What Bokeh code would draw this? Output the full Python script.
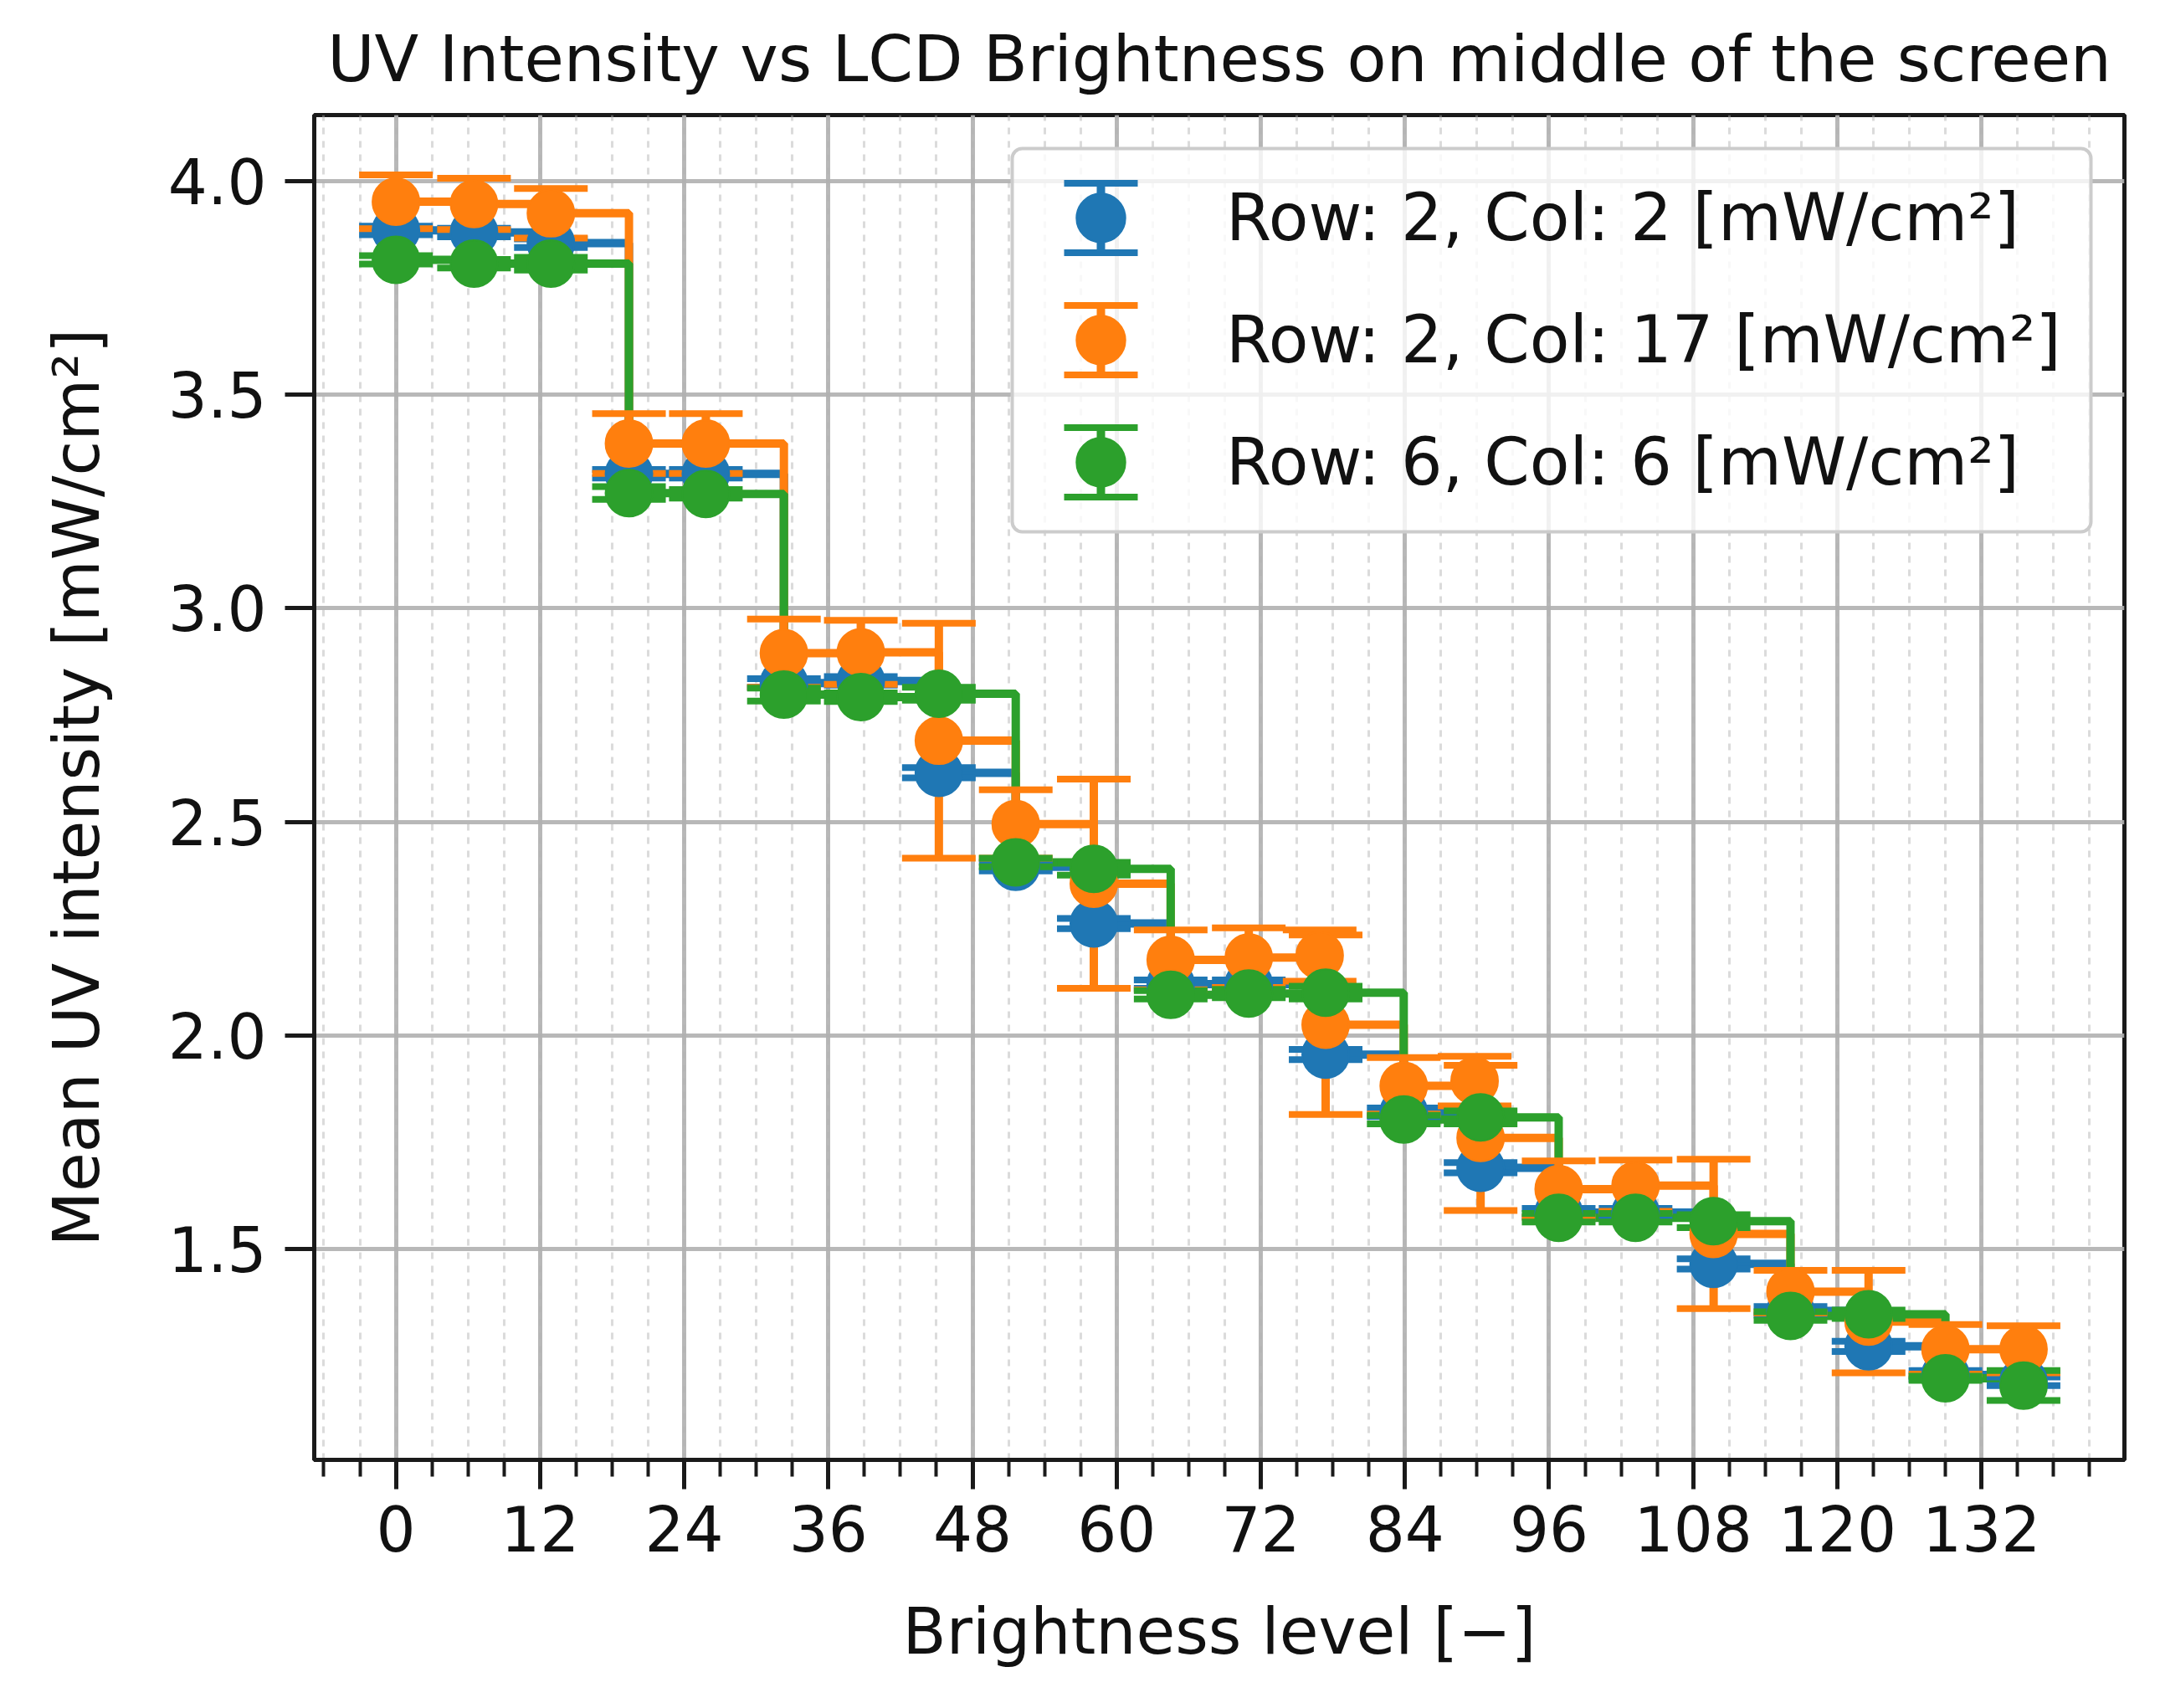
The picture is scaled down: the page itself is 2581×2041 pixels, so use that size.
from bokeh.plotting import figure
from bokeh.models import (ColumnDataSource, Range1d, SingleIntervalTicker,
                          PrintfTickFormatter, Legend, LegendItem, Whisker,
                          TeeHead, BoxAnnotation)
from bokeh.embed import file_html
from bokeh.resources import INLINE

# ---------------- data ----------------
brightness = [0, 6.5, 12.9, 19.4, 25.8, 32.3, 38.7, 45.2, 51.6, 58.1, 64.5,
              71.0, 77.4, 83.9, 90.3, 96.8, 103.2, 109.7, 116.1, 122.6, 129.0, 135.5]

# Row 2, Col 2
r2c2_mean = [3.885, 3.880, 3.855, 3.315, 3.315, 2.825, 2.830, 2.615, 2.395, 2.262, 2.120,
             2.120, 1.955, 1.820, 1.690, 1.585, 1.585, 1.465, 1.355, 1.272, 1.205, 1.190]
r2c2_std = [0.010, 0.010, 0.010, 0.010, 0.010, 0.010, 0.010, 0.012, 0.010, 0.012, 0.010,
            0.010, 0.012, 0.010, 0.012, 0.010, 0.010, 0.012, 0.010, 0.012, 0.010, 0.010]

# Row 2, Col 17 (two readings at two of the levels)
r2c17_x = [0, 6.5, 12.9, 19.4, 25.8, 32.3, 38.7, 45.2, 51.6, 58.1, 64.5, 71.0,
           76.9, 77.4, 83.9, 89.8, 90.3, 96.8, 103.2, 109.7, 116.1, 122.6, 129.0, 135.5]
r2c17_mean = [3.952, 3.947, 3.925, 3.386, 3.386, 2.895, 2.897, 2.690, 2.495, 2.355, 2.177, 2.182,
              2.187, 2.025, 1.882, 1.893, 1.760, 1.640, 1.648, 1.535, 1.400, 1.330, 1.265, 1.265]
r2c17_std = [0.063, 0.060, 0.058, 0.070, 0.070, 0.080, 0.075, 0.275, 0.080, 0.245, 0.070, 0.070,
             0.060, 0.210, 0.066, 0.058, 0.170, 0.066, 0.060, 0.175, 0.050, 0.120, 0.058, 0.055]

# Row 6, Col 6
r6c6_mean = [3.816, 3.807, 3.807, 3.270, 3.268, 2.798, 2.792, 2.800, 2.405, 2.390, 2.095,
             2.098, 2.100, 1.803, 1.808, 1.573, 1.573, 1.565, 1.343, 1.347, 1.197, 1.180]
r6c6_std = [0.010, 0.010, 0.015, 0.015, 0.010, 0.015, 0.010, 0.015, 0.010, 0.015, 0.010,
            0.010, 0.015, 0.010, 0.015, 0.010, 0.010, 0.015, 0.010, 0.010, 0.005, 0.035]

series_labels = ["Row: 2, Col: 2 [mW/cm\u00b2]",
                 "Row: 2, Col: 17 [mW/cm\u00b2]",
                 "Row: 6, Col: 6 [mW/cm\u00b2]"]
series_colors = ["#1f77b4", "#ff7f0e", "#2ca02c"]

TITLE = "UV Intensity vs LCD Brightness on middle of the screen"
X_LABEL = "Brightness level [\u2212]"
Y_LABEL = "Mean UV intensity [mW/cm\u00b2]"

FONT = "DejaVu Sans"
TXT = "#111111"

# ---------------- figure ----------------
p = figure(width=2565, height=2025, output_backend="svg", toolbar_location=None,
           x_range=Range1d(-6.8, 143.9), y_range=Range1d(1.006, 4.155),
           min_border_left=375, min_border_right=27, min_border_top=137,
           min_border_bottom=281, title=TITLE)
p.background_fill_color = "white"
p.border_fill_color = "white"
p.outline_line_color = "#1a1a1a"
p.outline_line_width = 5

sources = []
for xs, m, s in [(brightness, r2c2_mean, r2c2_std),
                 (r2c17_x, r2c17_mean, r2c17_std),
                 (brightness, r6c6_mean, r6c6_std)]:
    sources.append(ColumnDataSource(dict(
        x=xs, y=m,
        lo=[a - b for a, b in zip(m, s)],
        hi=[a + b for a, b in zip(m, s)])))

# step lines (post)
for src, c in zip(sources, series_colors):
    p.step(x="x", y="y", source=src, mode="after", line_color=c, line_width=10)

# error bars + caps
for src, c in zip(sources, series_colors):
    p.segment(x0="x", y0="lo", x1="x", y1="hi", source=src, line_color=c, line_width=10)
    p.scatter(x="x", y="lo", source=src, marker="dash", size=88, line_color=c, line_width=8)
    p.scatter(x="x", y="hi", source=src, marker="dash", size=88, line_color=c, line_width=8)

# markers
marker_renderers = []
for src, c in zip(sources, series_colors):
    r = p.scatter(x="x", y="y", source=src, marker="circle", size=56,
                  fill_color=c, line_color=c, line_width=2)
    marker_renderers.append(r)

# ---------------- axes ----------------
p.xaxis.ticker = SingleIntervalTicker(interval=12, num_minor_ticks=4)
p.yaxis.ticker = SingleIntervalTicker(interval=0.5, num_minor_ticks=0)
p.xaxis.formatter = PrintfTickFormatter(format="%d")
p.yaxis.formatter = PrintfTickFormatter(format="%.1f")

for ax in (p.xaxis, p.yaxis):
    ax.axis_line_color = "#1a1a1a"
    ax.axis_line_width = 5
    ax.major_tick_line_color = "#1a1a1a"
    ax.major_tick_line_width = 5
    ax.major_tick_out = 35
    ax.major_tick_in = 0
    ax.minor_tick_line_color = "#1a1a1a"
    ax.minor_tick_line_width = 4
    ax.minor_tick_out = 20
    ax.minor_tick_in = 0
    ax.major_label_text_font = FONT
    ax.major_label_text_font_size = "74px"
    ax.major_label_text_color = TXT
    ax.axis_label_text_font = FONT
    ax.axis_label_text_font_size = "76px"
    ax.axis_label_text_font_style = "normal"
    ax.axis_label_text_color = TXT

p.yaxis.minor_tick_line_color = None
p.xaxis.axis_label = X_LABEL
p.yaxis.axis_label = Y_LABEL
p.xaxis.major_label_standoff = 19
p.yaxis.major_label_standoff = 22
p.xaxis.axis_label_standoff = 48
p.yaxis.axis_label_standoff = 62

# grid
for g in (p.xgrid, p.ygrid):
    g.grid_line_color = "#b0b0b0"
    g.grid_line_width = 5
    g.grid_line_alpha = 0.9
p.xgrid.minor_grid_line_color = "#b0b0b0"
p.xgrid.minor_grid_line_alpha = 0.45
p.xgrid.minor_grid_line_width = 3
p.xgrid.minor_grid_line_dash = "8 8"

# title
p.title.text_font = FONT
p.title.text_font_size = "77px"
p.title.text_font_style = "normal"
p.title.text_color = TXT
p.title.align = "center"
p.title.standoff = 45

# ---------------- legend (frame-relative screen px) ----------------
LEG_LEFT, LEG_BOTTOM = 834, 1109
LEG_PAD, GLYPH_W, GLYPH_H, LBL_STANDOFF, LBL_W = 10, 192, 146, 54, 1023
leg_w = 2 * LEG_PAD + GLYPH_W + LBL_STANDOFF + LBL_W
leg_h = 2 * LEG_PAD + 3 * GLYPH_H

box_kw = dict(left=LEG_LEFT, right=LEG_LEFT + leg_w, bottom=LEG_BOTTOM, top=LEG_BOTTOM + leg_h,
              left_units="screen", right_units="screen",
              bottom_units="screen", top_units="screen",
              fill_color="white", fill_alpha=0.8,
              line_color="#cccccc", line_width=4, line_alpha=1.0, level="annotation")
if "border_radius" in BoxAnnotation.properties():
    box_kw["border_radius"] = 12
p.add_layout(BoxAnnotation(**box_kw))

# error-bar symbols of the legend keys
sym_x = LEG_LEFT + LEG_PAD + GLYPH_W / 2
for k, c in enumerate(series_colors):
    yc = LEG_BOTTOM + LEG_PAD + GLYPH_H / 2 + (2 - k) * GLYPH_H
    wsrc = ColumnDataSource(dict(base=[sym_x], lower=[yc - 41.5], upper=[yc + 41.5]))
    w = Whisker(source=wsrc, base="base", lower="lower", upper="upper",
                dimension="height", base_units="screen", lower_units="screen",
                upper_units="screen", line_color=c, line_width=10, level="annotation",
                lower_head=TeeHead(size=88, line_color=c, line_width=8),
                upper_head=TeeHead(size=88, line_color=c, line_width=8))
    p.add_layout(w)

# legend text + marker keys (transparent: the box above is its background)
legend = Legend(
    items=[LegendItem(label=lab, renderers=[r])
           for lab, r in zip(series_labels, marker_renderers)],
    location=(LEG_LEFT, LEG_BOTTOM), margin=0, padding=LEG_PAD, spacing=0,
    glyph_width=GLYPH_W, glyph_height=GLYPH_H, label_standoff=LBL_STANDOFF,
    label_width=LBL_W,
    label_text_font=FONT, label_text_font_size="78px", label_text_color=TXT,
    label_text_baseline="middle",
    background_fill_color="white", background_fill_alpha=0.0,
    border_line_color="white", border_line_alpha=0.0, border_line_width=4)
p.add_layout(legend)

open("out.html", "w").write(file_html(p, INLINE))
